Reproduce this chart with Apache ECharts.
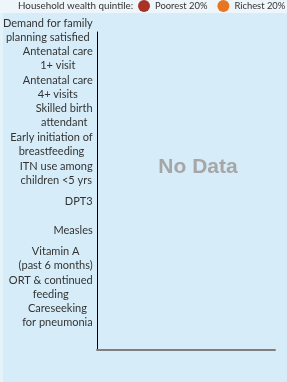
<!DOCTYPE html>
<html>
<head>
<meta charset="utf-8">
<script src="https://cdn.jsdelivr.net/npm/echarts@6/dist/echarts.min.js"></script>
<style>
html,body{margin:0;padding:0;background:#d6edf9;}
#chart{width:287px;height:382px;}
</style>
</head>
<body>
<div id="chart"></div>
<script>
// ---- data ----
const categories = [
  'Demand for family\nplanning satisfied',
  'Antenatal care\n1+ visit',
  'Antenatal care\n4+ visits',
  'Skilled birth\nattendant',
  'Early initiation of\nbreastfeeding',
  'ITN use among\nchildren <5 yrs',
  'DPT3',
  'Measles',
  'Vitamin A\n(past 6 months)',
  'ORT & continued\nfeeding',
  'Careseeking\nfor pneumonia'
];
const seriesNames = ['Poorest 20%', 'Richest 20%'];
const poorest = [];   // no data available
const richest = [];   // no data available
const legendTitle = 'Household wealth quintile:';
const emptyText = 'No Data';

const FONT = 'Lato';
const chart = echarts.init(document.getElementById('chart'));
chart.setOption({
  backgroundColor: '#d6edf9',
  animation: false,
  graphic: [
    { type: 'rect', left: 0, top: 0, shape: { width: 287, height: 13 }, style: { fill: '#eef6fb' }, silent: true, z: -10 },
    { type: 'rect', left: 0, top: 13, shape: { width: 3, height: 369 }, style: { fill: '#e4f2fa' }, silent: true, z: -10 }
  ],
  title: [
    { text: legendTitle, left: 18, top: 0, padding: 0,
      textStyle: { fontFamily: FONT, fontSize: 9.8, fontWeight: 'normal', color: '#333', lineHeight: 12 } },
    { text: emptyText, left: 198, top: 167, textAlign: 'center', textVerticalAlign: 'middle', padding: 0,
      textStyle: { fontFamily: 'Liberation Sans', fontSize: 21, fontWeight: 'bold', color: '#a6a6a6' } }
  ],
  legend: {
    data: seriesNames,
    left: 138, top: 0, padding: 0, width: 160,
    icon: 'circle', itemWidth: 12, itemHeight: 12, itemGap: 10,
    textStyle: { fontFamily: FONT, fontSize: 9.4, color: '#333' }
  },
  grid: [
    { left: 97, top: 16, right: 12, height: 314 },
    { left: 97, top: 32, right: 12, bottom: 32 }
  ],
  xAxis: [
    { gridIndex: 0, type: 'value', min: 0, max: 100, show: false },
    { gridIndex: 1, type: 'value', min: 0, max: 100,
      axisLine: { show: true, lineStyle: { color: '#7f7f7f', width: 2 } },
      axisTick: { show: false }, axisLabel: { show: false }, splitLine: { show: false } }
  ],
  yAxis: [
    { gridIndex: 0, type: 'category', inverse: true, data: categories,
      axisLine: { show: false }, axisTick: { show: false },
      axisLabel: {
        margin: 6, align: 'right', color: '#333',
        fontFamily: FONT, fontSize: 11, lineHeight: 14,
        formatter: v => v.split('\n').map(l => '{c|' + l + '}').join('\n'),
        rich: { c: { align: 'center', fontFamily: FONT, fontSize: 11, lineHeight: 14, color: '#333' } }
      } },
    { gridIndex: 1, type: 'category', inverse: true, data: categories,
      axisLine: { show: true, lineStyle: { color: '#000', width: 1 } },
      axisTick: { show: false }, axisLabel: { show: false }, splitLine: { show: false } }
  ],
  series: [
    { name: seriesNames[0], type: 'bar', xAxisIndex: 1, yAxisIndex: 1, data: poorest, itemStyle: { color: '#a93226' } },
    { name: seriesNames[1], type: 'bar', xAxisIndex: 1, yAxisIndex: 1, data: richest, itemStyle: { color: '#e8761f' } }
  ]
});
</script>
</body>
</html>
